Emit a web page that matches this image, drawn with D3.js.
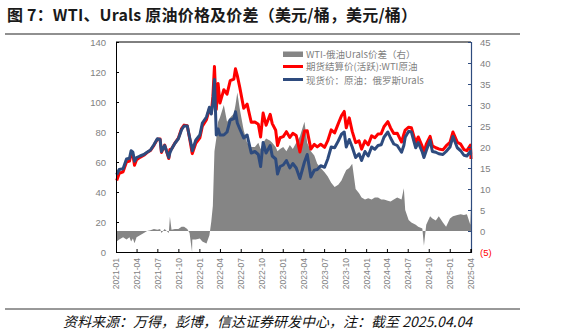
<!DOCTYPE html>
<html><head><meta charset="utf-8">
<script src="https://cdn.jsdelivr.net/npm/d3@7/dist/d3.min.js"></script>
<style>
html,body{margin:0;padding:0;background:#fff;}
svg{display:block;font-family:"Liberation Sans",Arial,"Noto Sans CJK SC",sans-serif;}
</style></head>
<body><svg id="c" width="577" height="334"></svg>
<script>
const dates = ["2021-01-04","2021-01-15","2021-02-01","2021-02-16","2021-03-01","2021-03-08","2021-03-16","2021-03-23","2021-04-01","2021-04-16","2021-05-03","2021-05-17","2021-06-01","2021-06-16","2021-07-01","2021-07-13","2021-07-19","2021-08-02","2021-08-20","2021-08-25","2021-09-01","2021-09-16","2021-10-01","2021-10-15","2021-10-26","2021-11-09","2021-11-19","2021-11-30","2021-12-01","2021-12-16","2022-01-03","2022-01-14","2022-02-01","2022-02-14","2022-02-22","2022-03-01","2022-03-08","2022-03-16","2022-03-24","2022-04-01","2022-04-18","2022-05-02","2022-05-16","2022-06-01","2022-06-08","2022-06-16","2022-06-27","2022-07-14","2022-07-29","2022-08-16","2022-09-01","2022-09-16","2022-09-26","2022-10-07","2022-10-20","2022-11-07","2022-11-16","2022-12-01","2022-12-09","2022-12-20","2023-01-03","2023-01-17","2023-02-01","2023-02-14","2023-03-01","2023-03-17","2023-04-06","2023-04-18","2023-05-04","2023-05-19","2023-06-01","2023-06-16","2023-07-03","2023-07-17","2023-08-01","2023-08-16","2023-09-01","2023-09-15","2023-09-27","2023-10-06","2023-10-19","2023-11-01","2023-11-16","2023-12-01","2023-12-12","2023-12-27","2024-01-10","2024-01-25","2024-02-08","2024-02-22","2024-03-07","2024-03-19","2024-04-05","2024-04-17","2024-05-01","2024-05-16","2024-06-04","2024-06-14","2024-06-20","2024-07-05","2024-07-17","2024-08-05","2024-08-16","2024-09-03","2024-09-10","2024-09-20","2024-10-07","2024-10-17","2024-11-01","2024-11-14","2024-12-02","2024-12-16","2025-01-02","2025-01-15","2025-02-03","2025-02-18","2025-03-04","2025-03-17","2025-04-01","2025-04-03","2025-04-04"];
const wti = [47.6,52.4,53.5,60.0,60.6,65.1,64.8,57.8,61.5,63.1,64.5,66.3,67.7,71.1,75.2,75.3,66.4,71.3,62.3,68.4,68.6,72.6,75.9,82.3,84.6,84.2,76.1,66.2,65.6,72.4,76.1,83.8,88.2,95.5,92.4,103.4,123.7,95.0,112.3,99.3,108.2,105.2,114.2,115.3,122.1,117.6,109.6,95.8,98.6,86.5,86.6,85.1,76.7,92.6,84.5,91.8,85.6,81.2,71.0,76.2,76.9,80.2,76.4,79.1,77.7,66.7,80.7,80.9,68.6,71.7,70.1,71.8,69.8,74.2,81.4,79.4,85.6,90.8,93.7,82.8,89.4,80.4,72.9,74.1,68.6,74.1,71.4,77.4,76.2,78.6,78.9,83.5,86.9,82.7,79.0,79.2,73.3,78.5,81.3,83.2,82.9,72.9,76.7,70.3,65.8,71.9,77.1,70.7,69.5,68.7,68.1,70.7,73.1,80.0,73.2,71.9,68.3,67.6,71.2,66.9,62.0];
const urals = [51.5,55.0,55.5,62.0,62.5,67.5,66.5,60.5,63.0,64.0,65.0,66.5,68.0,71.5,75.5,75.0,67.0,71.0,63.0,66.0,68.5,72.5,75.5,81.5,84.0,84.0,76.5,69.0,67.5,74.5,78.0,86.0,90.0,96.5,92.0,99.0,115.0,78.0,82.0,78.0,78.0,80.0,88.0,89.0,93.5,86.0,82.0,76.0,78.0,66.0,67.0,65.0,57.0,73.0,66.0,71.0,64.0,62.0,52.0,57.0,58.0,61.0,56.0,59.0,56.0,49.0,60.0,65.0,50.0,54.5,55.0,57.5,56.5,62.0,70.0,69.5,74.0,78.5,80.0,70.0,75.0,70.0,63.0,65.5,61.0,67.0,64.0,70.0,68.5,71.0,71.5,76.5,80.0,76.0,72.0,71.0,66.5,71.0,76.5,80.5,80.0,69.5,73.0,66.5,63.0,67.5,74.5,67.0,66.5,65.5,65.0,67.0,70.0,77.0,69.5,67.5,64.5,64.0,67.0,65.5,65.5];
const spread = [-2.5,-2.0,-1.5,-2.0,-1.5,-2.5,-1.8,-2.9,-1.5,-1.0,-0.5,0.0,0.2,0.5,0.3,0.5,-0.5,0.5,-0.5,3.4,0.3,0.5,0.5,1.0,1.0,0.5,-0.5,-5.0,-2.0,-2.0,-1.8,-2.5,-3.0,-1.0,2.2,6.0,19.0,22.0,26.0,27.0,30.0,26.0,27.0,28.0,30.0,33.0,29.0,24.0,21.0,20.0,20.0,21.0,19.5,21.0,22.0,21.5,21.0,20.0,19.0,19.5,20.0,19.0,20.5,19.5,21.0,22.5,26.0,21.0,19.0,18.0,16.0,15.0,14.0,13.0,11.5,10.5,11.0,12.0,13.5,14.5,15.0,16.0,10.0,9.0,8.0,7.5,7.8,7.5,8.0,8.0,7.5,7.5,7.2,7.0,7.5,8.0,7.5,10.2,5.0,2.6,2.0,1.5,1.0,0.6,-3.5,1.5,3.5,3.0,2.5,3.5,2.0,1.0,3.0,3.5,3.8,4.0,3.8,4.0,1.5,4.5,5.8];
const leftTicks = [0,20,40,60,80,100,120,140];
const rightTicks = [-5,0,5,10,15,20,25,30,35,40,45];
const xTickLabels = ["2021-01","2021-04","2021-07","2021-10","2022-01","2022-04","2022-07","2022-10","2023-01","2023-04","2023-07","2023-10","2024-01","2024-04","2024-07","2024-10","2025-01","2025-04"];
const legendLabels = ["WTI-俄油Urals价差（右）","期货结算价(活跃):WTI原油","现货价：原油：俄罗斯Urals"];
const titleText = "图 7：WTI、Urals 原油价格及价差（美元/桶，美元/桶）";
const sourceText = "资料来源：万得，彭博，信达证券研发中心，注：截至 2025.04.04";

const parse = d3.timeParse("%Y-%m-%d");
const pm = d3.timeParse("%Y-%m");
const data = dates.map((d,i)=>({date:parse(d), w:wti[i], u:urals[i], s:spread[i]}));

const svg = d3.select("#c");
const L=116, R=471, T=42, B=252;
const x = d3.scaleTime().domain([parse("2021-01-01"), parse("2025-04-04")]).range([L,R]);
const yL = d3.scaleLinear().domain([0,140]).range([B,T]);
const yR = d3.scaleLinear().domain([-5,45]).range([B,T]);
const grey="#7f7f7f", red="#ff0000", blue="#2e4b7e", bar="#858585";

// title
svg.append("text").attr("x",7).attr("y",21).attr("font-size",16).attr("font-weight","bold")
  .attr("letter-spacing",0.2).attr("fill","#1a1a1a").attr("font-family","'Noto Sans CJK SC',sans-serif").text(titleText);
svg.append("line").attr("x1",5).attr("x2",520).attr("y1",34).attr("y2",34).attr("stroke","#222").attr("stroke-width",1.2);

// spread area
svg.append("path").datum(data)
  .attr("d", d3.area().x(d=>x(d.date)).y0(yR(0)).y1(d=>yR(d.s)))
  .attr("fill",bar);

// lines
svg.append("path").datum(data).attr("d", d3.line().x(d=>x(d.date)).y(d=>yL(d.w)))
  .attr("fill","none").attr("stroke",red).attr("stroke-width",3).attr("stroke-linejoin","round");
svg.append("path").datum(data).attr("d", d3.line().x(d=>x(d.date)).y(d=>yL(d.u)))
  .attr("fill","none").attr("stroke",blue).attr("stroke-width",3).attr("stroke-linejoin","round");

// top border
svg.append("line").attr("x1",L).attr("x2",R).attr("y1",T).attr("y2",T).attr("stroke","#000").attr("stroke-width",1);

// left axis
const gl = svg.append("g").attr("transform",`translate(${L},0)`)
  .call(d3.axisLeft(yL).tickValues(leftTicks).tickSize(-3).tickPadding(10).tickFormat(d3.format("d")));
gl.select(".domain").attr("stroke","#000");
gl.selectAll(".tick line").attr("stroke","#000");
gl.selectAll("text").attr("fill",grey).attr("font-size",9.5);

// right axis
const gr = svg.append("g").attr("transform",`translate(${R},0)`)
  .call(d3.axisRight(yR).tickValues(rightTicks).tickSize(-3).tickPadding(9).tickFormat(d=>d<0?`(${-d})`:d));
gr.select(".domain").attr("stroke",blue).attr("stroke-width",1.2);
gr.selectAll(".tick line").attr("stroke",blue);
gr.selectAll("text").attr("fill",d=>d<0?red:grey).attr("font-size",9.5);

// bottom axis
const gb = svg.append("g").attr("transform",`translate(0,${B})`)
  .call(d3.axisBottom(x).tickValues(xTickLabels.map(s=>pm(s))).tickSize(-3).tickFormat(d3.timeFormat("%Y-%m")));
gb.select(".domain").attr("stroke","#000");
gb.selectAll(".tick line").attr("stroke","#000");
gb.selectAll("text").attr("fill",grey).attr("font-size",8.5)
  .attr("transform","translate(0,6) rotate(-90)").attr("text-anchor","end").attr("x",0).attr("y",0).attr("dy","0.35em");

// legend
const lg = svg.append("g").attr("font-size",9.5).attr("fill",grey).attr("font-family","'Noto Sans CJK SC','Liberation Sans',sans-serif");
lg.append("rect").attr("x",283).attr("y",51.5).attr("width",20).attr("height",5.5).attr("fill",bar);
lg.append("line").attr("x1",283).attr("x2",303).attr("y1",66.5).attr("y2",66.5).attr("stroke",red).attr("stroke-width",3);
lg.append("line").attr("x1",283).attr("x2",303).attr("y1",79.5).attr("y2",79.5).attr("stroke",blue).attr("stroke-width",3);
[57.5,70,83.5].forEach((yy,i)=>lg.append("text").attr("x",306).attr("y",yy).text(legendLabels[i]));

// footer
svg.append("line").attr("x1",5).attr("x2",520).attr("y1",309).attr("y2",309).attr("stroke","#333").attr("stroke-width",1);
svg.append("text").attr("x",63).attr("y",327).attr("font-size",14).attr("font-style","italic")
  .attr("fill","#111").attr("font-family","'Noto Sans CJK SC','Liberation Sans',sans-serif").text(sourceText);
</script></body></html>
